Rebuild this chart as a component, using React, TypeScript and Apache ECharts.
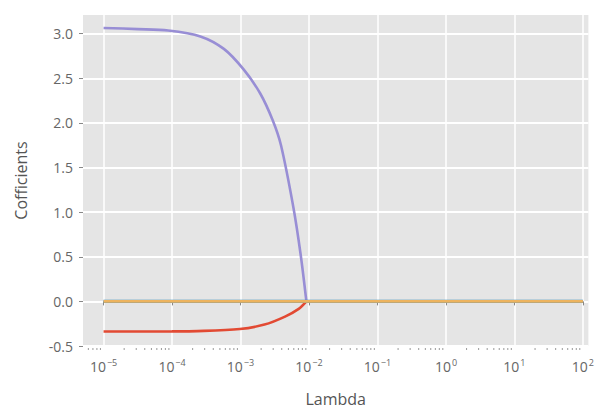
import React, { useEffect, useRef } from "react";
import * as echarts from "echarts";

// log10(lambda) sample positions and coefficient values
const purpleExp = [-5, -4.5, -4.057, -3.586, -3.243, -2.955, -2.712, -2.53, -2.409, -2.227, -2.121, -2.038];
const purpleVals = [3.065, 3.052, 3.036, 2.97, 2.83, 2.6, 2.33, 2.03, 1.75, 1.05, 0.52, 0];
const purpleTailExp = [-2.038, 2];
const purpleTailVals = [0, 0];
const redExp = [-5, -4, -3.63, -3.01, -2.65, -2.35, -2.15, -2.038];
const redVals = [-0.337, -0.336, -0.333, -0.31, -0.26, -0.17, -0.084, 0];
const redTailExp = [-2.038, 2];
const redTailVals = [0, 0];
const flatExp = [-5, -4, -3, -2, -1, 0, 1, 2];
const blueVals = [0, 0, 0, 0, 0, 0, 0, 0];
const orangeVals = [0, 0, 0, 0, 0, 0, 0, 0];
const xTickExps = [-5, -4, -3, -2, -1, 0, 1, 2];
const yTicks = [-0.5, 0, 0.5, 1.0, 1.5, 2.0, 2.5, 3.0];

const XMIN = Math.pow(10, -5.3);
const XMAX = Math.pow(10, 2.08);
const YMIN = -0.5;
const YMAX = 3.21;

const toData = (exps: number[], vals: number[]) => exps.map((e, i) => [Math.pow(10, e), vals[i]]);

const minorTicks: number[][] = [];
for (let k = -6; k <= 2; k++) {
  for (let m = 2; m <= 9; m++) {
    const v = m * Math.pow(10, k);
    if (v >= XMIN && v <= XMAX) minorTicks.push([v, YMIN]);
  }
}

const FONT = "'Open Sans', 'Noto Sans', sans-serif";

export default function App() {
  const ref = useRef<HTMLDivElement>(null);
  useEffect(() => {
    if (!ref.current) return;
    const chart = echarts.init(ref.current, null, { renderer: "svg" });
    const lineSeries = (name: string, data: number[][], color: string, width: number, smooth: any) => ({
      name,
      type: "line",
      data,
      showSymbol: false,
      symbol: "none",
      smooth,
      lineStyle: { color, width },
      z: 3,
    });
    chart.setOption({
      animation: false,
      backgroundColor: "#ffffff",
      grid: {
        left: 83,
        right: 7,
        top: 15,
        bottom: 57,
        containLabel: false,
        show: true,
        backgroundColor: "#E5E5E5",
        borderWidth: 0,
      },
      xAxis: {
        type: "log",
        logBase: 10,
        min: XMIN,
        max: XMAX,
        name: "Lambda",
        nameLocation: "middle",
        nameGap: 45,
        nameTextStyle: { color: "#555555", fontSize: 16, fontFamily: FONT },
        axisLine: { show: false },
        axisTick: {
          show: true,
          length: 4,
          lineStyle: { color: "#888888", width: 1 },
          customValues: xTickExps.map((e) => Math.pow(10, e)),
        },
        axisLabel: {
          color: "#666666",
          fontSize: 14,
          fontFamily: FONT,
          margin: 12,
          customValues: xTickExps.map((e) => Math.pow(10, e)),
          formatter: (v: number) => {
            const e = Math.round(Math.log10(v));
            return "10{s|" + (e < 0 ? "\u2212" + -e : String(e)) + "}";
          },
          rich: {
            s: { fontSize: 9, color: "#666666", fontFamily: FONT, padding: [0, 0, 8, 1] },
          },
        },
        splitLine: { show: true, lineStyle: { color: "#ffffff", width: 1.5 } },
      },
      yAxis: {
        type: "value",
        min: YMIN,
        max: YMAX,
        name: "Cofficients",
        nameLocation: "middle",
        nameGap: 54,
        nameTextStyle: { color: "#555555", fontSize: 16, fontFamily: FONT },
        axisLine: { show: false },
        axisTick: { show: true, length: 4, customValues: yTicks, lineStyle: { color: "#888888" } },
        axisLabel: {
          color: "#666666",
          fontSize: 14,
          fontFamily: FONT,
          margin: 10,
          customValues: yTicks,
          formatter: (v: number) => v.toFixed(1),
        },
        splitLine: { show: true, lineStyle: { color: "#ffffff", width: 1.8 } },
      },
      series: [
        {
          type: "custom",
          name: "minor",
          clip: false,
          silent: true,
          data: minorTicks,
          renderItem: (params: any, api: any) => {
            const p = api.coord([api.value(0), api.value(1)]);
            return {
              type: "line",
              shape: { x1: p[0], y1: p[1] + 2, x2: p[0], y2: p[1] + 4 },
              style: { stroke: "#999999", lineWidth: 1 },
            };
          },
          z: 1,
        },
        lineSeries("a", toData(purpleExp, purpleVals), "#988ED5", 2.6, 0.3),
        lineSeries("a2", toData(purpleTailExp, purpleTailVals), "#988ED5", 2.6, false),
        lineSeries("b", toData(redExp, redVals), "#E24A33", 2.6, 0.3),
        lineSeries("b2", toData(redTailExp, redTailVals), "#E24A33", 2.6, false),
        lineSeries("c", toData(flatExp, blueVals), "#348ABD", 3.2, false),
        lineSeries("d", toData(flatExp, orangeVals), "#EDB35E", 2.8, false),
      ],
    });
    return () => chart.dispose();
  }, []);
  return <div ref={ref} style={{ position: "fixed", left: 0, top: 0, width: 597, height: 412 }} />;
}
